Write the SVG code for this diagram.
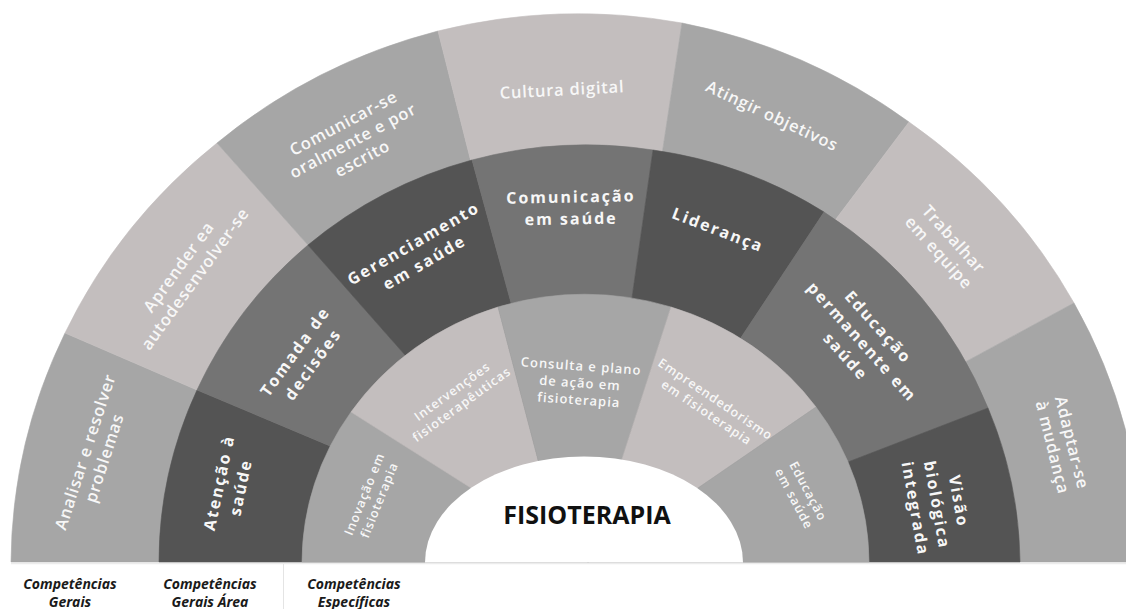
<svg xmlns="http://www.w3.org/2000/svg" width="1126" height="609" viewBox="0 0 1126 609">
<style>
.light{fill:#c3bebe;stroke:#c3bebe;stroke-width:0.6}
.mid{fill:#a6a6a6;stroke:#a6a6a6;stroke-width:0.6}
.mdark{fill:#747474;stroke:#747474;stroke-width:0.6}
.dark{fill:#545454;stroke:#545454;stroke-width:0.6}
text{font-family:"Open Sans","Liberation Sans",sans-serif;fill:#f7f7f7;text-anchor:middle}
.to{font-size:16.5px;font-weight:600;letter-spacing:0.8px}
.tm{font-size:16px;font-weight:700;letter-spacing:2px}
.ti{font-size:12.5px;font-weight:600;letter-spacing:1px}
.lab{font-size:14px;font-weight:700;font-style:italic;fill:#1a1a1a}
.title{font-size:25px;font-weight:700;fill:#111}
</style>
<rect width="1126" height="609" fill="#ffffff"/>
<g id="outer-ring">
<g id="analisar"><path class="mid" d="M11,562 A566,547 0 0 1 65,333 L197,390 L588,562 Z"/>
<text class="to" transform="translate(95,455) rotate(-72)"><tspan x="0" y="-4.5">Analisar e resolver</tspan><tspan x="0" y="15.5">problemas</tspan></text></g>
<g id="aprender"><path class="light" d="M65,333 A566,547 0 0 1 217,143 L308,245 L588,562 L197,390 Z"/>
<text class="to" transform="translate(187,273) rotate(-54)"><tspan x="0" y="-4.5">Aprender ea</tspan><tspan x="0" y="15.5">autodesenvolver-se</tspan></text></g>
<g id="comunicar"><path class="mid" d="M217,143 A566,547 0 0 1 438,31 L470,158 L588,562 L308,245 Z"/>
<text class="to" transform="translate(353,141) rotate(-28)"><tspan x="0" y="-14.5">Comunicar-se</tspan><tspan x="0" y="5.5">oralmente e por</tspan><tspan x="0" y="25.5">escrito</tspan></text></g>
<g id="cultura"><path class="light" d="M438,31 A566,547 0 0 1 682,23 L663,148 L588,562 L470,158 Z"/>
<text class="to" transform="translate(562,90) rotate(-3)"><tspan x="0" y="5.5">Cultura digital</tspan></text></g>
<g id="atingir"><path class="mid" d="M682,23 A566,547 0 0 1 909,122 L836,219 L588,562 L663,148 Z"/>
<text class="to" transform="translate(772,116) rotate(25)"><tspan x="0" y="5.5">Atingir objetivos</tspan></text></g>
<g id="trabalhar"><path class="light" d="M909,122 A566,547 0 0 1 1074,303 L969,360 L588,562 L836,219 Z"/>
<text class="to" transform="translate(946,246) rotate(48)"><tspan x="0" y="-4.5">Trabalhar</tspan><tspan x="0" y="15.5">em equipe</tspan></text></g>
<g id="adaptar"><path class="mid" d="M1074,303 A566,547 0 0 1 1143,562 L588,562 L969,360 Z"/>
<text class="to" transform="translate(1062,445) rotate(76)"><tspan x="0" y="-4.5">Adaptar-se</tspan><tspan x="0" y="15.5">à mudança</tspan></text></g>
</g>
<g id="middle-ring">
<g id="atencao"><path class="dark" d="M159,562 A430.5,419 0 0 1 197,390 L330,446 L588,562 Z"/>
<text class="tm" transform="translate(230,485) rotate(-78)"><tspan x="0" y="-5.5">Atenção à</tspan><tspan x="0" y="16.5">saúde</tspan></text></g>
<g id="tomada"><path class="mdark" d="M197,390 A430.5,419 0 0 1 308,245 L405,355 L588,562 L330,446 Z"/>
<text class="tm" transform="translate(304,358) rotate(-54)"><tspan x="0" y="-5.5">Tomada de</tspan><tspan x="0" y="16.5">decisões</tspan></text></g>
<g id="gerenciamento"><path class="dark" d="M308,245 A430.5,419 0 0 1 472,160 L511,303 L588,562 L405,355 Z"/>
<text class="tm" transform="translate(419,253) rotate(-30)"><tspan x="0" y="-5.5">Gerenciamento</tspan><tspan x="0" y="16.5">em saúde</tspan></text></g>
<g id="comunicacao"><path class="mdark" d="M472,160 A430.5,419 0 0 1 653,150 L632,298 L588,562 L511,303 Z"/>
<text class="tm" transform="translate(571,208) rotate(-1)"><tspan x="0" y="-5.5">Comunicação</tspan><tspan x="0" y="16.5">em saúde</tspan></text></g>
<g id="lideranca"><path class="dark" d="M653,150 A430.5,419 0 0 1 824,212 L740,339 L588,562 L632,298 Z"/>
<text class="tm" transform="translate(718,230) rotate(21)"><tspan x="0" y="5.5">Liderança</tspan></text></g>
<g id="educacao-permanente"><path class="mdark" d="M824,212 A430.5,419 0 0 1 988,408 L848,462 L588,562 L740,339 Z"/>
<text class="tm" transform="translate(862,342) rotate(48)"><tspan x="0" y="-16.5">Educação</tspan><tspan x="0" y="5.5">permanente em</tspan><tspan x="0" y="27.5">saúde</tspan></text></g>
<g id="visao"><path class="dark" d="M988,408 A430.5,419 0 0 1 1020,562 L588,562 L848,462 Z"/>
<text class="tm" transform="translate(937,505) rotate(80)"><tspan x="0" y="-16.5">Visão</tspan><tspan x="0" y="5.5">biológica</tspan><tspan x="0" y="27.5">integrada</tspan></text></g>
</g>
<g id="inner-ring">
<g id="inovacao"><path class="mid" d="M302,562 A283.5,268 0 0 1 351,412 L471,488 L588,562 Z"/>
<text class="ti" transform="translate(372,497) rotate(-68)"><tspan x="0" y="-3.8">Inovação em</tspan><tspan x="0" y="12.2">fisioterapia</tspan></text></g>
<g id="intervencoes"><path class="light" d="M351,412 A283.5,268 0 0 1 498,307 L538,460 L588,562 L471,488 Z"/>
<text class="ti" transform="translate(457,398) rotate(-36)"><tspan x="0" y="-3.8">Intervenções</tspan><tspan x="0" y="12.2">fisioterapêuticas</tspan></text></g>
<g id="consulta"><path class="mid" d="M498,307 A283.5,268 0 0 1 671,307 L622,459 L588,562 L538,460 Z"/>
<text class="ti" style="font-size:13px" transform="translate(580,383) rotate(4)"><tspan x="0" y="-12.5">Consulta e plano</tspan><tspan x="0" y="4.5">de ação em</tspan><tspan x="0" y="21.5">fisioterapia</tspan></text></g>
<g id="empreendedorismo"><path class="light" d="M671,307 A283.5,268 0 0 1 816,407 L698,488 L588,562 L622,459 Z"/>
<text class="ti" transform="translate(711,406) rotate(34)"><tspan x="0" y="-3.8">Empreendedorismo</tspan><tspan x="0" y="12.2">em fisioterapia</tspan></text></g>
<g id="educacao-saude"><path class="mid" d="M816,407 A283.5,268 0 0 1 869,562 L588,562 L698,488 Z"/>
<text class="ti" transform="translate(801,495) rotate(62)"><tspan x="0" y="-3.8">Educação</tspan><tspan x="0" y="12.2">em saúde</tspan></text></g>
</g>
<g id="center"><path d="M425,562.5 A159,106 0 0 1 743,562.5 Z" fill="#ffffff"/>
<text class="title" x="587" y="524">FISIOTERAPIA</text></g>
<g id="connectors">
<line x1="11" y1="563.5" x2="1126" y2="563.5" stroke="#ececec" stroke-width="1.5"/>
<line x1="283.5" y1="564" x2="283.5" y2="609" stroke="#e4e4e4" stroke-width="1"/>
</g>
<g id="legend">
<text class="lab" x="70" y="589">Competências<tspan x="70" y="607">Gerais</tspan></text>
<text class="lab" x="210" y="589">Competências<tspan x="210" y="607">Gerais Área</tspan></text>
<text class="lab" x="354" y="589">Competências<tspan x="354" y="607">Específicas</tspan></text>
</g>
</svg>
